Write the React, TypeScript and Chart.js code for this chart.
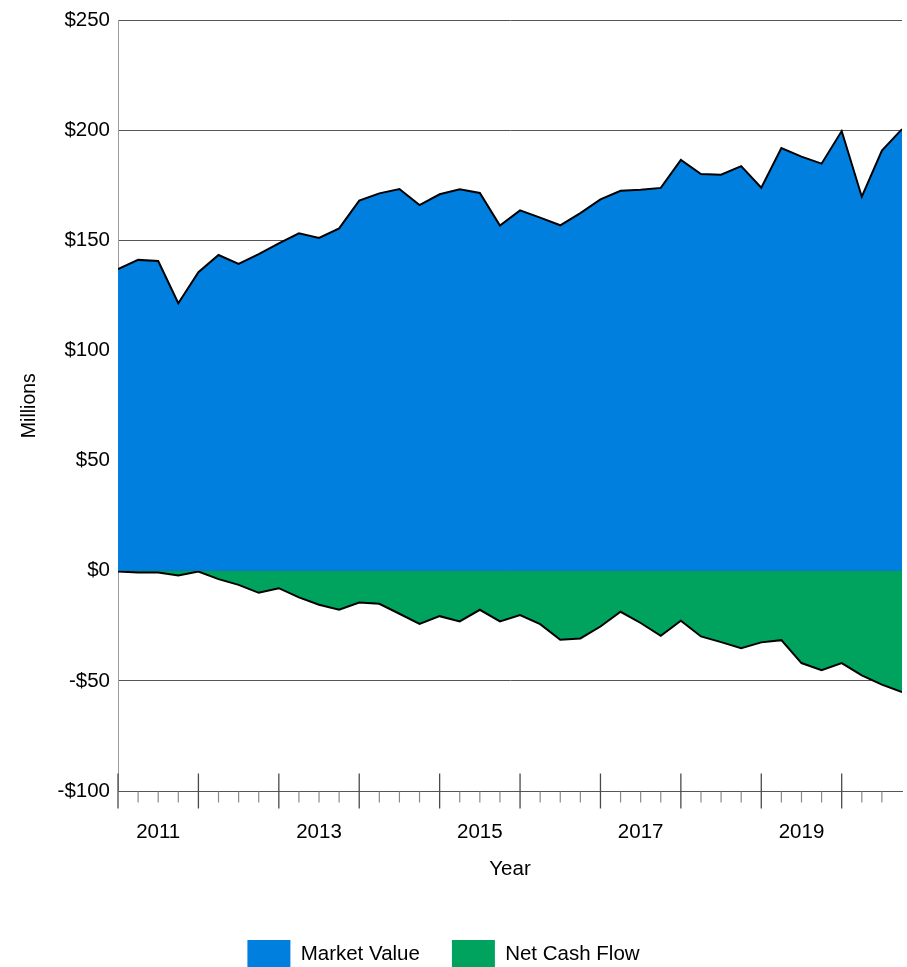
import React, { useEffect, useRef } from 'react';
import { Chart, registerables } from 'chart.js';

Chart.register(...registerables);

const quarters: string[] = [];
for (let y = 2011; y <= 2020; y++) for (let q = 1; q <= 4; q++) quarters.push(`${y} Q${q}`);

const marketValue = [
  137.0, 141.2, 140.7, 121.5, 135.6, 143.4, 139.4, 143.8, 148.7, 153.3,
  151.2, 155.5, 168.1, 171.4, 173.4, 166.1, 171.0, 173.3, 171.6, 156.8,
  163.7, 160.4, 156.9, 162.4, 168.7, 172.6, 173.1, 173.9, 186.6, 180.2,
  179.9, 183.8, 174.0, 192.0, 188.1, 184.9, 199.7, 169.9, 190.8, 200.6,
];

const netCashFlow = [
  -0.3, -0.8, -0.8, -2.1, -0.3, -3.8, -6.4, -10.0, -7.9, -12.1,
  -15.4, -17.7, -14.4, -15.0, -19.5, -24.1, -20.6, -23.0, -17.7, -23.0,
  -20.1, -24.2, -31.3, -30.7, -25.3, -18.6, -23.7, -29.5, -22.7, -29.8,
  -32.4, -35.1, -32.5, -31.5, -41.9, -45.1, -41.9, -47.5, -51.7, -55.1,
];

const xTickLabels = ['2011', '2013', '2015', '2017', '2019'];
const yMin = -100;
const yMax = 250;
const yStep = 50;

const seriesNames = ['Market Value', 'Net Cash Flow'];
const seriesColors = ['#007FDF', '#00A35E'];

const FONT = '"Liberation Sans", Arial, sans-serif';
const FS = 20.5;

const quarterTicks = {
  id: 'quarterTicks',
  afterDraw(chart: any) {
    const xs = chart.scales.x;
    const ys = chart.scales.y;
    const ctx = chart.ctx;
    const base = Math.round(ys.getPixelForValue(yMin)) + 0.5;
    ctx.save();
    quarters.forEach((q, i) => {
      if (i === quarters.length - 1) return;
      const px = xs.getPixelForValue(i);
      const major = q.endsWith('Q1');
      ctx.strokeStyle = major ? '#4a4a4a' : '#8a8a8a';
      ctx.lineWidth = major ? 1.3 : 1.2;
      ctx.beginPath();
      ctx.moveTo(px, major ? base - 18 : base);
      ctx.lineTo(px, major ? base + 17 : base + 11);
      ctx.stroke();
    });
    ctx.restore();
  },
};

export default function App() {
  const ref = useRef<HTMLCanvasElement>(null);
  useEffect(() => {
    if (!ref.current) return;
    Chart.defaults.font.family = FONT;
    Chart.defaults.color = '#000';
    const chart = new Chart(ref.current, {
      type: 'line',
      data: {
        datasets: [
          {
            label: seriesNames[0],
            data: marketValue.map((v, i) => ({ x: i, y: v })),
            backgroundColor: seriesColors[0],
            borderColor: '#000',
            borderWidth: 2,
            fill: 'origin',
            pointRadius: 0,
            tension: 0,
          },
          {
            label: seriesNames[1],
            data: netCashFlow.map((v, i) => ({ x: i, y: v })),
            backgroundColor: seriesColors[1],
            borderColor: '#000',
            borderWidth: 2,
            fill: 'origin',
            pointRadius: 0,
            tension: 0,
          },
        ],
      },
      options: {
        animation: false,
        responsive: false,
        devicePixelRatio: 1,
        layout: { padding: { left: -15, right: 5, top: 20, bottom: 0 } },
        plugins: {
          tooltip: { enabled: false },
          legend: {
            position: 'bottom',
            labels: {
              boxWidth: 43,
              boxHeight: 28,
              padding: 32,
              font: { size: FS, family: FONT },
              color: '#000',
              generateLabels: (c: any) =>
                Chart.defaults.plugins.legend.labels
                  .generateLabels(c)
                  .map((l: any) => ({ ...l, lineWidth: 0, strokeStyle: 'rgba(0,0,0,0)' })),
            },
          },
        },
        scales: {
          x: {
            type: 'linear',
            min: 0,
            max: quarters.length - 1,
            grid: { display: false },
            border: { display: true, color: '#555', width: 1 },
            afterBuildTicks: (scale: any) => {
              scale.ticks = xTickLabels.map((y) => ({ value: quarters.indexOf(`${y} Q1`) + 2 }));
            },
            afterFit: (scale: any) => {
              scale.height = 117;
            },
            ticks: {
              autoSkip: false,
              maxRotation: 0,
              padding: 21,
              font: { size: FS, family: FONT },
              color: '#000',
              callback: (_v: any, idx: number) => xTickLabels[idx],
            },
            title: {
              display: true,
              text: 'Year',
              font: { size: FS, family: FONT },
              color: '#000',
              padding: { top: 0, bottom: 26 },
            },
          },
          y: {
            min: yMin,
            max: yMax,
            grid: { color: '#555', lineWidth: 1, drawTicks: false },
            border: { display: true, color: '#9a9a9a', width: 1 },
            afterFit: (scale: any) => {
              scale.width = 133;
            },
            ticks: {
              stepSize: yStep,
              padding: 8,
              font: { size: FS, family: FONT },
              color: '#000',
              callback: (v: any) => (v < 0 ? `-$${-v}` : `$${v}`),
            },
            title: {
              display: true,
              text: 'Millions',
              font: { size: FS - 1, family: FONT },
              color: '#000',
              padding: { top: 33, bottom: 0 },
            },
          },
        },
      },
      plugins: [quarterTicks],
    } as any);
    return () => chart.destroy();
  }, []);
  return (
    <div
      style={{
        position: 'fixed',
        left: 0,
        top: 0,
        width: 907,
        height: 967,
        overflow: 'hidden',
        background: '#fff',
      }}
    >
      <canvas ref={ref} width={907} height={978} style={{ display: 'block' }} />
    </div>
  );
}
